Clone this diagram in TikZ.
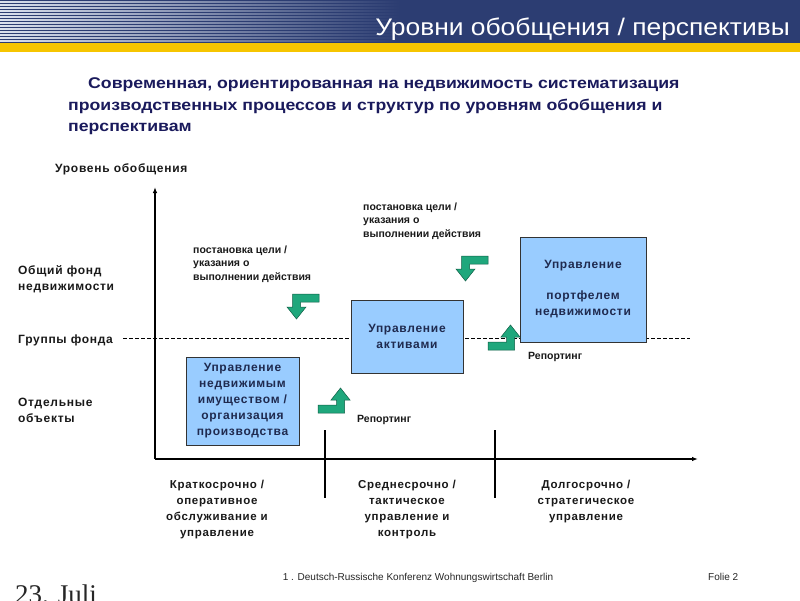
\documentclass[tikz,border=0pt]{standalone}
\usepackage{fontspec}
\setmainfont{Liberation Sans}
\newfontfamily\titlefont[FakeStretch=1.1]{Liberation Sans}
\newfontfamily\subfont[FakeStretch=1.14]{Liberation Sans}
\newfontfamily\lblfont[LetterSpace=6]{Liberation Sans}
\newfontfamily\smallfont{Liberation Sans}
\newfontfamily\datefont{Liberation Serif}
\usetikzlibrary{fadings,arrows.meta}

\definecolor{hdrblue}{HTML}{2C3D72}
\definecolor{hdrlight}{HTML}{DCE2EE}
\definecolor{goldbar}{HTML}{F6C500}
\definecolor{navy}{HTML}{1A1A5C}
\definecolor{boxnavy}{HTML}{1F2A4F}
\definecolor{boxblue}{HTML}{99CCFF}
\definecolor{arrowgreen}{HTML}{1FA77C}
\definecolor{arrowedge}{HTML}{0F5E45}

\tikzset{
 subt/.style={anchor=base west, inner sep=0, text=navy, font=\subfont\bfseries\fontsize{15.5}{21}\selectfont},
 axislbl/.style={inner sep=0, align=left, text=black!90, font=\lblfont\bfseries\fontsize{12}{16}\selectfont},
 mgmtbox/.style={draw=black!80, line width=0.8pt, fill=boxblue, inner sep=0, align=center, text=boxnavy, font=\lblfont\bfseries\fontsize{12}{16}\selectfont},
 notelbl/.style={inner sep=0, align=left, text=black!90, font=\smallfont\bfseries\fontsize{10.5}{13.5}\selectfont},
 horizonlbl/.style={anchor=north, inner sep=0, align=center, text=black!90, font=\lblfont\bfseries\fontsize{11.5}{16}\selectfont},
 bentarrow/.style={fill=arrowgreen, draw=arrowedge, line width=0.5pt, line join=miter},
 axisline/.style={line width=1.8pt, -{Latex[length=6pt,width=4.5pt]}},
 tickline/.style={line width=1.8pt},
 levelline/.style={line width=0.8pt, dash pattern=on 4pt off 2pt},
 footer/.style={inner sep=0, text=black!85, font=\smallfont\fontsize{10}{12}\selectfont},
 downbent/.pic={\draw[bentarrow] (5.5,0) -- (32,0) -- (32,8) -- (13.5,8) -- (13.5,13) -- (19,13) -- (9.5,25) -- (0,13) -- (5.5,13) -- cycle;},
 upbent/.pic={\draw[bentarrow] (26.5,25) -- (0,25) -- (0,17) -- (18.5,17) -- (18.5,12) -- (13,12) -- (22.5,0) -- (32,12) -- (26.5,12) -- cycle;},
}

\begin{document}
\begin{tikzpicture}[x=1pt,y=-1pt]
\useasboundingbox (0,0) rectangle (800,600);
\clip (0,0) rectangle (800,600);
\fill[white] (0,0) rectangle (800,600);

% header
\fill[hdrblue] (0,0) rectangle (800,43);
\fill[hdrlight, path fading=east] (0,0) rectangle (400,43);
\foreach \yy in {0,3,...,42} \fill[hdrblue] (0,\yy) rectangle (400,\yy+1.4);
\fill[goldbar] (0,43) rectangle (800,52);
\node[anchor=base east, inner sep=0, text=white, font=\titlefont\fontsize{24}{28}\selectfont] (title) at (790,35) {Уровни обобщения / перспективы};

% subtitle
\node[subt] (sub1) at (88,88) {Современная, ориентированная на недвижимость систематизация};
\node[subt] (sub2) at (68,110) {производственных процессов и структур по уровням обобщения и};
\node[subt] (sub3) at (68,131) {перспективам};

% axes
\coordinate (origin) at (155,459);
\coordinate (ytop) at (155,187);
\coordinate (xend) at (698,459);
\coordinate (t1a) at (325,430);
\coordinate (t1b) at (325,498);
\coordinate (t2a) at (495,430);
\coordinate (t2b) at (495,498);
\coordinate (dashL) at (123,338);
\coordinate (dashR) at (690,338);
\draw[levelline] (dashL) -- (dashR);
\draw[axisline] (origin) -- (ytop);
\draw[axisline] (origin) -- (xend);
\draw[tickline] (t1a) -- (t1b);
\draw[tickline] (t2a) -- (t2b);

% axis labels
\node[axislbl, anchor=base west, font=\lblfont\bfseries\fontsize{12}{16}\selectfont] (ylabel) at (55,172) {Уровень обобщения};
\node[axislbl, anchor=north west] (lvl1) at (18,265) {Общий фонд\\недвижимости};
\node[axislbl, anchor=base west] (lvl2) at (18,343) {Группы фонда};
\node[axislbl, anchor=north west] (lvl3) at (18,398) {Отдельные\\объекты};

% boxes
\node[mgmtbox, minimum width=113pt, minimum height=88pt] (ops) at (242.5,401) {Управление\\недвижимым\\имуществом /\\организация\\производства};
\node[mgmtbox, minimum width=112pt, minimum height=73pt] (asset) at (407,336.5) {Управление\\активами};
\node[mgmtbox, minimum width=126pt, minimum height=105pt] (port) at (583,289.5) {Управление\\[15pt]портфелем\\недвижимости};

% bent arrows
\pic at (287,294) {downbent};
\pic at (456,256) {downbent};
\pic at (318,388) {upbent};
\pic at (488,325) {upbent};

% notes
\node[notelbl, anchor=north west] (goal1) at (193,245.5) {постановка цели /\\указания о\\выполнении действия};
\node[notelbl, anchor=north west] (goal2) at (363,202.5) {постановка цели /\\указания о\\выполнении действия};
\node[notelbl, anchor=base west] (rep1) at (357,422) {Репортинг};
\node[notelbl, anchor=base west] (rep2) at (528,359) {Репортинг};

% horizons
\node[horizonlbl] (h1) at (217,480) {Краткосрочно /\\оперативное\\обслуживание и\\управление};
\node[horizonlbl] (h2) at (407,480) {Среднесрочно /\\тактическое\\управление и\\контроль};
\node[horizonlbl] (h3) at (586,480) {Долгосрочно /\\стратегическое\\управление};

% footer
\node[footer, anchor=base] (conf) at (418,580) {1 . Deutsch-Russische Konferenz Wohnungswirtschaft Berlin};
\node[footer, anchor=base west] (folie) at (708,580) {Folie 2};
\node[anchor=base west, inner sep=0, text=black!85, font=\datefont\fontsize{27}{30}\selectfont] (date) at (15,603) {23. Juli};
\end{tikzpicture}
\end{document}
